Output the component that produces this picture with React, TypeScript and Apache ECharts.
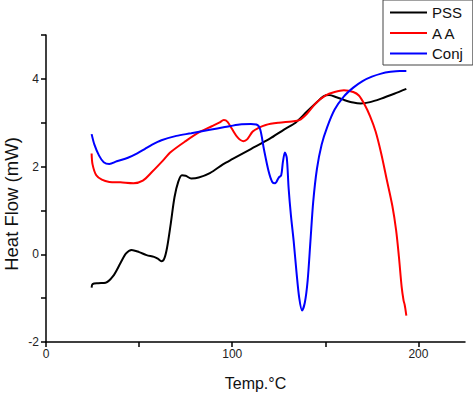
import React, { useEffect, useRef } from "react";
import * as echarts from "echarts";

const seriesNames = ["PSS", "A A", "Conj"];
const seriesColors = ["#000000", "#ff0000", "#0000ff"];

const pssData: [number, number][] = [
  [24.5, -0.76], [25, -0.68], [28, -0.66], [32, -0.65], [36, -0.5], [40, -0.2], [43, 0.02],
  [46, 0.1], [50, 0.05], [54, -0.02], [58, -0.06], [60, -0.1], [62, -0.16], [63.5, -0.1],
  [65, 0.15], [67, 0.7], [69, 1.3], [71, 1.65], [73, 1.8], [75, 1.79], [78, 1.73], [82, 1.75],
  [88, 1.85], [95, 2.05], [100, 2.17], [110, 2.4], [120, 2.63], [128, 2.85], [134, 3.0],
  [140, 3.25], [145, 3.45], [149, 3.6], [152, 3.63], [156, 3.58], [160, 3.52], [165, 3.46],
  [169, 3.44], [174, 3.47], [180, 3.55], [187, 3.66], [193.5, 3.77],
];

const aaData: [number, number][] = [
  [24.5, 2.3], [25, 2.05], [27, 1.8], [30, 1.7], [34, 1.65], [40, 1.64], [47, 1.62], [52, 1.68],
  [57, 1.88], [62, 2.1], [67, 2.33], [75, 2.58], [83, 2.8], [89, 2.92], [93, 3.0], [95.5, 3.06],
  [97.5, 3.02], [100, 2.85], [103, 2.66], [106, 2.58], [108, 2.62], [111, 2.8], [114, 2.88],
  [118, 2.95], [125, 3.0], [132, 3.03], [136, 3.06], [140, 3.2], [145, 3.45], [150, 3.62],
  [155, 3.7], [160, 3.74], [165, 3.7], [168, 3.62], [171, 3.42], [174, 3.15], [177, 2.8],
  [180, 2.3], [183, 1.7], [186, 1.1], [188, 0.55], [189.5, -0.05], [191, -0.75], [192, -1.05],
  [192.6, -1.15], [193, -1.25], [193.5, -1.4],
];

const conjData: [number, number][] = [
  [24.5, 2.74], [26, 2.5], [28.5, 2.25], [31, 2.1], [34, 2.06], [38, 2.12], [44, 2.2], [49, 2.3],
  [53, 2.4], [57, 2.5], [62, 2.6], [70, 2.7], [78, 2.76], [88, 2.84], [96, 2.9], [104, 2.96],
  [110, 2.97], [113, 2.96], [115, 2.85], [117, 2.4], [119.5, 1.9], [121.5, 1.65], [123, 1.62],
  [125, 1.75], [126.3, 1.8], [127.2, 2.1], [128.3, 2.32], [129.3, 2.2], [130.3, 1.5],
  [131.5, 0.9], [133, 0.3], [134.5, -0.4], [136, -1.0], [137.5, -1.28], [139, -1.1],
  [140.5, -0.6], [142, 0.3], [143.5, 1.2], [145.5, 1.95], [148, 2.5], [151, 2.9], [155, 3.3],
  [160, 3.6], [165, 3.8], [170, 3.95], [175, 4.05], [180, 4.12], [185, 4.16], [190, 4.18],
  [193.5, 4.18],
];

const xTicks = [0, 50, 100, 150, 200];
const xLabels = [0, 100, 200];
const yTicks = [-2, -1, 0, 1, 2, 3, 4, 5];
const yLabels = [-2, 0, 2, 4];

export default function App() {
  const ref = useRef<HTMLDivElement>(null);
  useEffect(() => {
    if (!ref.current) return;
    const chart = echarts.init(ref.current, undefined, { renderer: "svg" });
    const font = "Liberation Sans, Arial, sans-serif";
    const datas = [pssData, aaData, conjData];
    chart.setOption({
      animation: false,
      backgroundColor: "#ffffff",
      textStyle: { fontFamily: font },
      grid: { left: 46, right: 8, top: 35, bottom: 54, containLabel: false },
      legend: {
        orient: "vertical",
        left: 383,
        top: 0,
        padding: [5, 10, 4, 7],
        itemWidth: 37,
        itemHeight: 14,
        itemGap: 5.5,
        icon: "path://M0,0 L37,0 L37,2 L0,2 Z",
        backgroundColor: "#ffffff",
        borderColor: "#444",
        borderWidth: 1,
        borderRadius: 0,
        textStyle: { fontSize: 15, color: "#111", fontFamily: font },
        data: seriesNames,
      },
      xAxis: {
        type: "value",
        min: 0,
        max: 225,
        interval: 50,
        name: "Temp.°C",
        nameLocation: "middle",
        nameGap: 33,
        nameTextStyle: { fontSize: 16, color: "#111", fontFamily: font },
        axisLine: { show: true, onZero: false, lineStyle: { color: "#000", width: 1.5 } },
        axisTick: { show: true, length: 5, customValues: xTicks, lineStyle: { color: "#000", width: 1.5 } },
        axisLabel: { customValues: xLabels, fontSize: 12, color: "#222", margin: 6, fontFamily: font },
        splitLine: { show: false },
      },
      yAxis: {
        type: "value",
        min: -2,
        max: 5,
        interval: 1,
        axisLine: { show: true, onZero: false, lineStyle: { color: "#000", width: 1.5 } },
        axisTick: { show: true, length: 5, customValues: yTicks, lineStyle: { color: "#000", width: 1.5 } },
        axisLabel: { customValues: yLabels, fontSize: 12, color: "#222", margin: 7, fontFamily: font },
        splitLine: { show: false },
      },
      graphic: [
        {
          type: "text",
          x: 11,
          y: 204,
          rotation: Math.PI / 2,
          style: {
            text: "Heat Flow (mW)",
            fontSize: 18.5,
            fontFamily: font,
            fill: "#111",
            textAlign: "center",
            textVerticalAlign: "middle",
          },
        },
      ],
      series: seriesNames.map((n, i) => ({
        name: n,
        type: "line",
        data: datas[i],
        showSymbol: false,
        symbol: "none",
        smooth: 0.3,
        lineStyle: { color: seriesColors[i], width: 2 },
        itemStyle: { color: seriesColors[i] },
      })),
    });
    return () => chart.dispose();
  }, []);
  return (
    <div
      ref={ref}
      style={{ position: "fixed", left: 0, top: 0, width: 473, height: 396 }}
    />
  );
}
